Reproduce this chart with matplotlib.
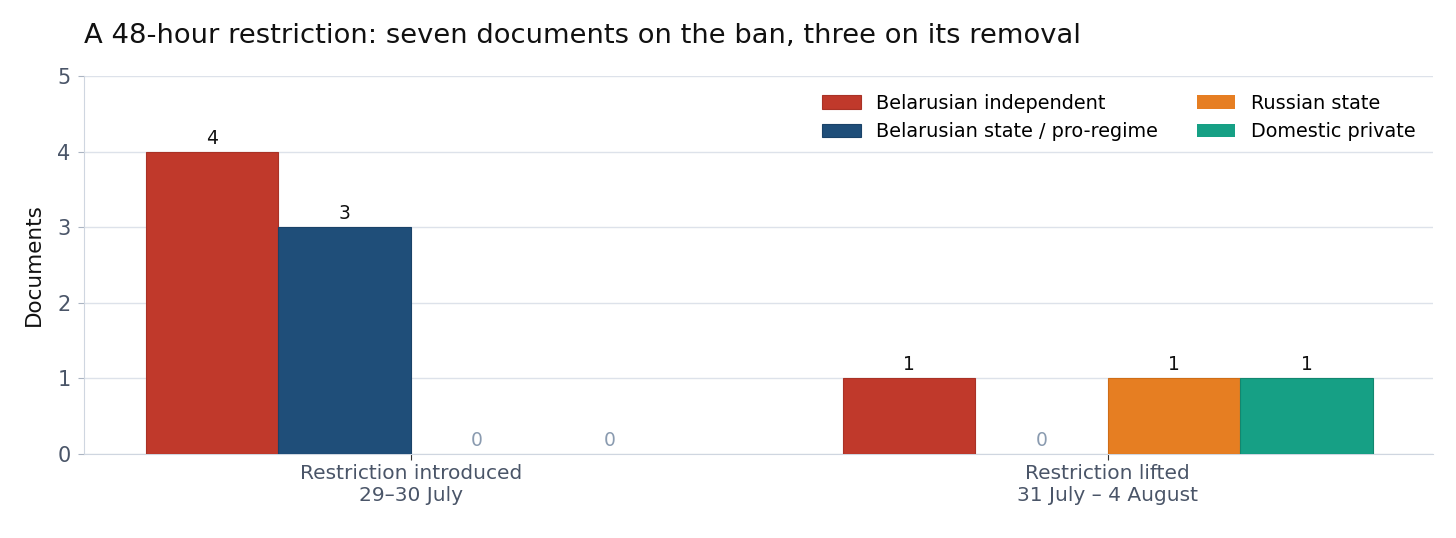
import numpy as np
import matplotlib.pyplot as plt

# Data
periods = ["Restriction introduced\n29–30 July", "Restriction lifted\n31 July – 4 August"]
series = ["Belarusian independent", "Belarusian state / pro-regime", "Russian state", "Domestic private"]
counts = {
    "Belarusian independent": [4, 1],
    "Belarusian state / pro-regime": [3, 0],
    "Russian state": [0, 1],
    "Domestic private": [0, 1],
}
colors = ["#c0392b", "#1f4e79", "#e67e22", "#16a085"]
edges = ["#a93226", "#1a4268", "#cf6d17", "#12876f"]

fig, ax = plt.subplots(figsize=(14.56, 5.38), dpi=100)
fig.subplots_adjust(left=0.058, right=0.984, top=0.858, bottom=0.157)

x = np.arange(len(periods))
w = 0.19
for i, s in enumerate(series):
    pos = x + (i - 1.5) * w
    vals = counts[s]
    bars = ax.bar(pos, vals, w, color=colors[i], edgecolor=edges[i], linewidth=0.8,
                  label=s, zorder=3)
    for b, p, v in zip(bars, pos, vals):
        if v == 0:
            b.set_linewidth(0)
        ax.text(p, v + 0.05, str(v), ha="center", va="bottom", fontsize=13.5,
                color="#111111" if v > 0 else "#8a9bb0", zorder=4)

ax.set_xlim(-0.468, 1.466)
ax.set_ylim(0, 5)
ax.set_xticks(x)
ax.set_xticklabels(periods, fontsize=14.5)
ax.set_yticks(range(6))
ax.tick_params(axis="y", labelsize=15, labelcolor="#4a5568", color="#aab4c2", length=4, pad=6)
ax.tick_params(axis="x", labelcolor="#4a5568", color="#333333", length=4)
ax.set_ylabel("Documents", fontsize=15.5, color="#111111", labelpad=10)
ax.grid(axis="y", color="#dde2ea", linewidth=1, zorder=0)
for sp in ["top", "right"]:
    ax.spines[sp].set_visible(False)
for sp in ["left", "bottom"]:
    ax.spines[sp].set_color("#cfd6e0")

ax.set_title("A 48-hour restriction: seven documents on the ban, three on its removal",
             loc="left", fontsize=19.7, color="#111111", pad=24)
ax.legend(loc="upper right", ncol=2, frameon=False, fontsize=13.9,
          handlelength=2.0, columnspacing=2.0, bbox_to_anchor=(1.0, 1.0))

fig.savefig("out.png", dpi=100)
